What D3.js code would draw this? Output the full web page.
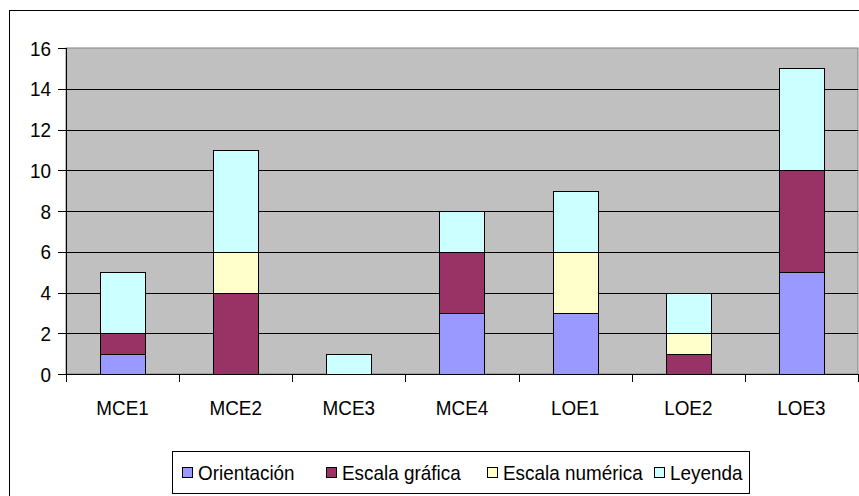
<!DOCTYPE html>
<html lang="es">
<head>
<meta charset="utf-8">
<script src="https://cdn.jsdelivr.net/npm/d3@7"></script>
<style>
  body { margin: 0; background: #fff; }
  text { font-family: "Liberation Sans", Arial, sans-serif; fill: #000; font-size: 21px; }
</style>
</head>
<body>
<svg id="chart"></svg>
<script>
  // data
  const categories = ["MCE1", "MCE2", "MCE3", "MCE4", "LOE1", "LOE2", "LOE3"];
  const seriesNames = ["Orientación", "Escala gráfica", "Escala numérica", "Leyenda"];
  const orientacion    = [1, 0, 0, 3, 3, 0, 5];
  const escalaGrafica  = [1, 4, 0, 3, 0, 1, 5];
  const escalaNumerica = [0, 2, 0, 0, 3, 1, 0];
  const leyenda        = [3, 5, 1, 2, 3, 2, 5];
  const yTicks = [0, 2, 4, 6, 8, 10, 12, 14, 16];

  const colors = ["#9999FF", "#993366", "#FFFFCC", "#CCFFFF"];
  const W = 859, H = 496;
  const plot = {left: 66, right: 858, top: 48, bottom: 374};
  const sx = 0.9;   // text in the picture is a bit narrower than plain Arial

  const svg = d3.select("#chart").attr("width", W).attr("height", H);

  // outer chart border (right/bottom run off the page)
  svg.append("rect").attr("x", 9.5).attr("y", 10.5)
    .attr("width", 900).attr("height", 600)
    .attr("fill", "#fff").attr("stroke", "#000");

  const rows = categories.map((c, i) => ({
    cat: c,
    "Orientación": orientacion[i],
    "Escala gráfica": escalaGrafica[i],
    "Escala numérica": escalaNumerica[i],
    "Leyenda": leyenda[i]
  }));
  const stacked = d3.stack().keys(seriesNames)(rows);

  const x = d3.scaleBand().domain(categories)
    .range([plot.left, plot.right]).paddingInner(0.6).paddingOuter(0.3);
  const xb = d3.scaleBand().domain(categories).range([plot.left, plot.right]);
  const y = d3.scaleLinear().domain([0, 16]).range([plot.bottom, plot.top]);

  // plot area
  svg.append("rect")
    .attr("x", plot.left).attr("y", plot.top)
    .attr("width", plot.right - plot.left).attr("height", plot.bottom - plot.top)
    .attr("fill", "#C0C0C0").attr("stroke", "#808080");

  // gridlines
  svg.append("g").selectAll("line")
    .data(yTicks.filter(d => d > 0 && d < 16)).join("line")
    .attr("x1", plot.left).attr("x2", plot.right)
    .attr("y1", d => Math.round(y(d)) + 0.5).attr("y2", d => Math.round(y(d)) + 0.5)
    .attr("stroke", "#000").attr("stroke-width", 1);

  // bars
  svg.append("g").selectAll("g")
    .data(stacked).join("g")
    .attr("fill", (d, i) => colors[i])
    .selectAll("rect")
    .data(d => d.filter(s => s[1] - s[0] > 0)).join("rect")
      .attr("x", d => Math.round(x(d.data.cat)) + 0.5)
      .attr("y", d => Math.round(y(d[1])) + 0.5)
      .attr("width", Math.round(x.bandwidth()))
      .attr("height", d => Math.round(y(d[0])) - Math.round(y(d[1])))
      .attr("stroke", "#000").attr("stroke-width", 1);

  // y axis
  const yAxis = svg.append("g");
  yAxis.append("line")
    .attr("x1", plot.left + 0.5).attr("x2", plot.left + 0.5)
    .attr("y1", plot.top).attr("y2", plot.bottom)
    .attr("stroke", "#000");
  yAxis.selectAll("line.tick").data(yTicks).join("line").attr("class", "tick")
    .attr("x1", plot.left - 8).attr("x2", plot.left)
    .attr("y1", d => Math.round(y(d)) + 0.5).attr("y2", d => Math.round(y(d)) + 0.5)
    .attr("stroke", "#000");
  yAxis.selectAll("text").data(yTicks).join("text")
    .attr("transform", d => `translate(51,${y(d) + 7.5}) scale(${sx},1)`)
    .attr("text-anchor", "end")
    .text(d => d);

  // x axis
  const xAxis = svg.append("g");
  xAxis.append("line")
    .attr("x1", plot.left).attr("x2", plot.right)
    .attr("y1", plot.bottom + 0.5).attr("y2", plot.bottom + 0.5)
    .attr("stroke", "#000");
  xAxis.selectAll("line.tick")
    .data(categories.map(c => xb(c)).concat([plot.right])).join("line").attr("class", "tick")
    .attr("x1", d => Math.round(d) + 0.5).attr("x2", d => Math.round(d) + 0.5)
    .attr("y1", plot.bottom).attr("y2", plot.bottom + 8)
    .attr("stroke", "#000");
  xAxis.selectAll("text").data(categories).join("text")
    .attr("transform", d => `translate(${xb(d) + xb.bandwidth() / 2},415) scale(${sx},1)`)
    .attr("text-anchor", "middle")
    .text(d => d);

  // legend
  const legend = svg.append("g");
  legend.append("rect")
    .attr("x", 172.5).attr("y", 451.5).attr("width", 577).attr("height", 42)
    .attr("fill", "#fff").attr("stroke", "#000");
  const legX = [182, 326, 487, 654];
  const item = legend.selectAll("g.item").data(seriesNames).join("g").attr("class", "item")
    .attr("transform", (d, i) => `translate(${legX[i]},0)`);
  item.append("rect")
    .attr("x", 0.5).attr("y", 467.5).attr("width", 10).attr("height", 10)
    .attr("fill", (d, i) => colors[i]).attr("stroke", "#000");
  item.append("text")
    .attr("transform", `translate(16,480) scale(${sx},1)`)
    .text(d => d);
</script>
</body>
</html>
